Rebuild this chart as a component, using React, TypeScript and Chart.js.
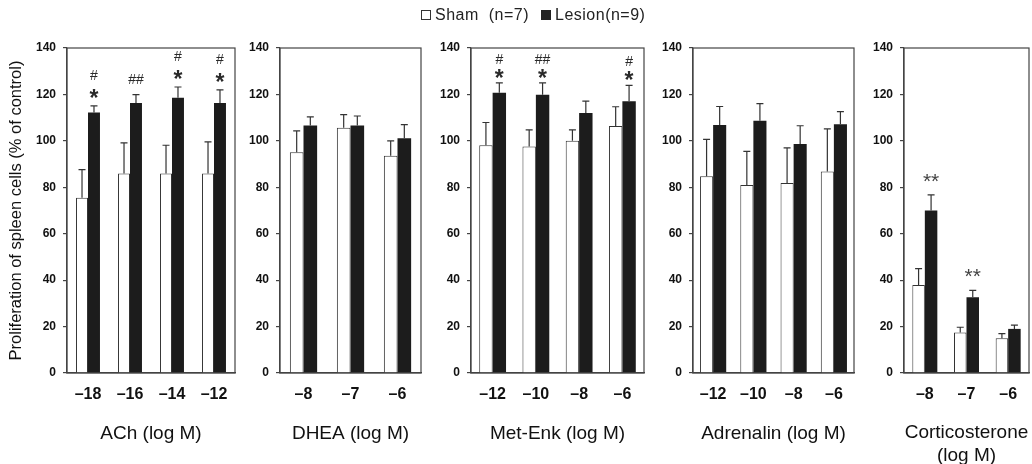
import React, { useEffect, useRef } from "react";
import { Chart, registerables } from "chart.js";

Chart.register(...registerables);

const FONT = "Arial, 'Liberation Sans', Helvetica, sans-serif";

// ---- data ----
const yTickValues = [0, 20, 40, 60, 80, 100, 120, 140];
const seriesNames = ["Sham (n=7)", "Lesion(n=9)"];
const yAxisTitle = "Proliferation of spleen cells (% of control)";

const achLabels = ["–18", "–16", "–14", "–12"];
const achSham = [75.5, 85.9, 85.9, 85.9];
const achShamErr = [12.1, 13.2, 12.2, 13.7];
const achLesion = [112.2, 116.3, 118.6, 116.3];
const achLesionErr = [2.9, 3.6, 4.6, 5.7];
const achMarks = [["#", "*"], ["##"], ["#", "*"], ["#", "*"]];

const dheaLabels = ["–8", "–7", "–6"];
const dheaSham = [95.1, 105.6, 93.6];
const dheaShamErr = [9.2, 5.7, 6.4];
const dheaLesion = [106.6, 106.6, 101.1];
const dheaLesionErr = [3.7, 4.1, 5.9];
const dheaMarks: string[][] = [[], [], []];

const metLabels = ["–12", "–10", "–8", "–6"];
const metSham = [98.1, 97.6, 100, 106.4];
const metShamErr = [9.8, 7.1, 4.7, 8.3];
const metLesion = [120.7, 119.9, 112, 117.1];
const metLesionErr = [4.3, 5.1, 5.1, 6.8];
const metMarks = [["#", "*"], ["##", "*"], [], ["#", "*"]];

const adrLabels = ["–12", "–10", "–8", "–6"];
const adrSham = [84.8, 81, 81.9, 86.8];
const adrShamErr = [15.8, 14.5, 15.1, 18.4];
const adrLesion = [106.8, 108.7, 98.6, 107.2];
const adrLesionErr = [8, 7.3, 7.9, 5.4];
const adrMarks: string[][] = [[], [], [], []];

const corLabels = ["–8", "–7", "–6"];
const corSham = [37.9, 17.4, 15];
const corShamErr = [7.1, 2.3, 2];
const corLesion = [70, 32.6, 19];
const corLesionErr = [6.7, 3, 1.6];
const corMarks = [["**"], ["**"], []];

// ---- layout table ----
const panels = [
  { title: "ACh (log M)", labels: achLabels, sham: achSham, shamErr: achShamErr, lesion: achLesion, lesionErr: achLesionErr, marks: achMarks, left: 67, right: 235, cat: 0.57, yTitle: true, markBase: 13, markGap: 18 },
  { title: "DHEA (log M)", labels: dheaLabels, sham: dheaSham, shamErr: dheaShamErr, lesion: dheaLesion, lesionErr: dheaLesionErr, marks: dheaMarks, left: 280, right: 421, cat: 0.58, yTitle: false, markBase: 12, markGap: 16 },
  { title: "Met-Enk (log M)", labels: metLabels, sham: metSham, shamErr: metShamErr, lesion: metLesion, lesionErr: metLesionErr, marks: metMarks, left: 471, right: 644, cat: 0.62, yTitle: false, markBase: 10, markGap: 14 },
  { title: "Adrenalin (log M)", labels: adrLabels, sham: adrSham, shamErr: adrShamErr, lesion: adrLesion, lesionErr: adrLesionErr, marks: adrMarks, left: 693, right: 854, cat: 0.65, yTitle: false, markBase: 12, markGap: 16 },
  { title: ["Corticosterone", "(log M)"], labels: corLabels, sham: corSham, shamErr: corShamErr, lesion: corLesion, lesionErr: corLesionErr, marks: corMarks, left: 904, right: 1029, cat: 0.6, yTitle: false, markBase: 19, markGap: 16 },
];

const H = 464;
const PLOT_TOP = 48;
const PLOT_BOTTOM = 373;

const framePlugin = {
  id: "frame",
  afterDraw(chart: any) {
    const { ctx, chartArea: a } = chart;
    ctx.save();
    ctx.strokeStyle = "#444";
    ctx.lineWidth = 1.2;
    ctx.strokeRect(a.left, a.top, a.right - a.left, a.bottom - a.top);
    ctx.restore();
  },
};

const errorPlugin = {
  id: "errbars",
  afterDatasetsDraw(chart: any) {
    const { ctx } = chart;
    const ys = chart.scales.y;
    chart.data.datasets.forEach((ds: any, i: number) => {
      const meta = chart.getDatasetMeta(i);
      meta.data.forEach((el: any, j: number) => {
        const v = ds.data[j];
        const e = ds.err[j];
        const top = ys.getPixelForValue(v + e);
        ctx.save();
        ctx.strokeStyle = "#333";
        ctx.lineWidth = 1.2;
        ctx.beginPath();
        ctx.moveTo(el.x, el.y);
        ctx.lineTo(el.x, top);
        ctx.moveTo(el.x - 3.5, top);
        ctx.lineTo(el.x + 3.5, top);
        ctx.stroke();
        ctx.restore();
      });
    });
  },
};

// annotation text above the lesion bars (visual centres measured above the error bar top)
const marksPlugin = {
  id: "marks",
  afterDatasetsDraw(chart: any) {
    const { ctx } = chart;
    const ys = chart.scales.y;
    const ds = chart.data.datasets[1];
    const meta = chart.getDatasetMeta(1);
    meta.data.forEach((el: any, j: number) => {
      const m: string[] = ds.marks[j] || [];
      if (!m.length) return;
      const top = ys.getPixelForValue(ds.data[j] + ds.err[j]);
      ctx.save();
      ctx.fillStyle = "#2a2a2a";
      ctx.textAlign = "center";
      ctx.textBaseline = "alphabetic";
      const bottom = m[m.length - 1];
      let c = bottom.indexOf("*") >= 0 ? ds.markBase : 16;
      for (let k = m.length - 1; k >= 0; k--) {
        const t = m[k];
        if (t === "**") {
          ctx.font = `21px ${FONT}`;
          ctx.fillStyle = "#444";
          ctx.fillText(t, el.x, top - c + 12);
        } else if (t.indexOf("*") >= 0) {
          ctx.font = `bold 23px ${FONT}`;
          ctx.fillText(t, el.x, top - c + 13);
        } else {
          ctx.font = `14px ${FONT}`;
          ctx.fillText(t, el.x, top - c + 5);
        }
        c += ds.markGap;
      }
      ctx.restore();
    });
  },
};

function Panel({ p }: { p: any }) {
  const ref = useRef<HTMLCanvasElement>(null);
  const axisW = p.yTitle ? p.left : 40;
  const canvasLeft = p.left - axisW;
  const width = p.right - p.left + axisW + 3;
  const twoLine = Array.isArray(p.title);

  useEffect(() => {
    if (!ref.current) return;
    const chart = new Chart(ref.current, {
      type: "bar",
      data: {
        labels: p.labels,
        datasets: [
          { label: seriesNames[0], data: p.sham, backgroundColor: "#ffffff", borderColor: "#333", borderWidth: 1, categoryPercentage: p.cat, barPercentage: 1, err: p.shamErr } as any,
          { label: seriesNames[1], data: p.lesion, backgroundColor: "#1c1c1c", borderColor: "#1c1c1c", borderWidth: 0, categoryPercentage: p.cat, barPercentage: 1, err: p.lesionErr, marks: p.marks, markBase: p.markBase, markGap: p.markGap } as any,
        ],
      },
      options: {
        responsive: false,
        animation: false,
        devicePixelRatio: 1,
        layout: { padding: { top: PLOT_TOP, right: 3, bottom: 0, left: 0 } },
        plugins: { legend: { display: false }, tooltip: { enabled: false } },
        scales: {
          x: {
            grid: { display: false },
            border: { display: true, color: "#444", width: 1.2 },
            ticks: { color: "#111", font: { family: FONT, size: 16, weight: "bold" }, padding: 4, maxRotation: 0, autoSkip: false },
            title: { display: true, text: p.title, color: "#111", font: { family: FONT, size: 19 }, padding: { top: 0, bottom: twoLine ? -3 : 18.6 } },
            afterFit: (s: any) => { s.height = H - PLOT_BOTTOM; },
          },
          y: {
            min: 0,
            max: 140,
            afterBuildTicks: (s: any) => { s.ticks = yTickValues.map((v) => ({ value: v })); },
            grid: { display: true, drawOnChartArea: false, drawTicks: true, tickLength: 4, color: "#444", lineWidth: 1.2 },
            border: { display: true, color: "#444", width: 1.2 },
            ticks: { color: "#111", font: { family: FONT, size: 12, weight: "bold" }, padding: 7 },
            title: { display: p.yTitle, text: yAxisTitle, color: "#111", font: { family: FONT, size: 16.5 }, padding: { top: 7, bottom: 0 } },
            afterFit: (s: any) => { s.width = axisW; },
          },
        },
      } as any,
      plugins: [framePlugin, errorPlugin, marksPlugin],
    });
    return () => chart.destroy();
  }, []);

  return (
    <canvas
      ref={ref}
      width={width}
      height={H}
      style={{ position: "absolute", left: canvasLeft, top: 0, width, height: H }}
    />
  );
}

export default function App() {
  return (
    <div style={{ position: "fixed", left: 0, top: 0, width: 1032, height: H, background: "#fff", overflow: "hidden" }}>
      {panels.map((p, i) => (
        <Panel key={i} p={p} />
      ))}
      <div style={{ position: "absolute", left: 421, top: 6, font: `16px ${FONT}`, color: "#222", display: "flex", alignItems: "center", whiteSpace: "pre", letterSpacing: 0.5 }}>
        <span style={{ display: "inline-block", width: 8, height: 8, border: "1px solid #333", background: "#fff", marginRight: 4 }} />
        <span>{seriesNames[0].replace(" ", "  ")}</span>
        <span style={{ display: "inline-block", width: 10, height: 10, background: "#222", marginLeft: 12, marginRight: 4 }} />
        <span>{seriesNames[1]}</span>
      </div>
    </div>
  );
}
